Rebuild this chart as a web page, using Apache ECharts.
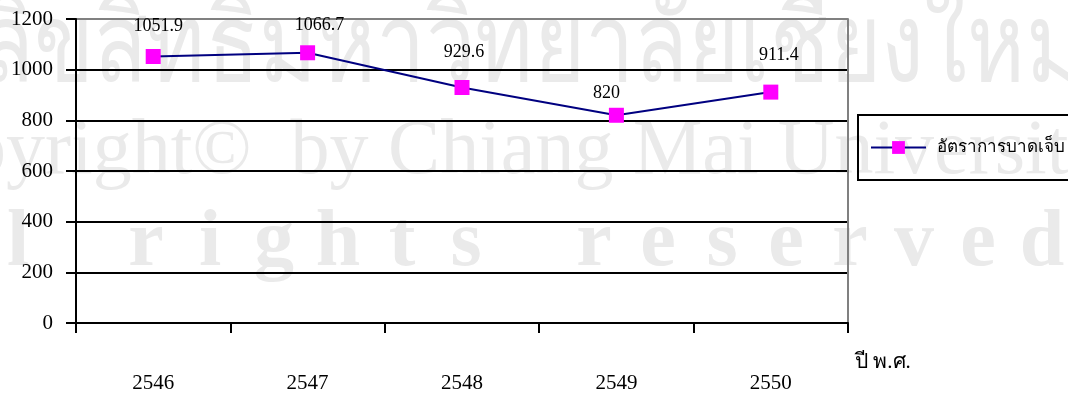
<!DOCTYPE html>
<html>
<head>
<meta charset="utf-8">
<script src="https://cdn.jsdelivr.net/npm/echarts@6/dist/echarts.min.js"></script>
<style>
  html, body { margin: 0; padding: 0; background: #fff; }
  #chart { width: 1068px; height: 394px; }
</style>
</head>
<body>
<div id="chart"></div>
<script>
// Injury rate by Buddhist-era year
const years = ['2546', '2547', '2548', '2549', '2550'];
const injuryRate = [1051.9, 1066.7, 929.6, 820, 911.4];
const seriesName = 'อัตราการบาดเจ็บ';
const yTicks = [0, 200, 400, 600, 800, 1000, 1200];
const xAxisTitle = 'ปี พ.ศ.';

// label nudges (dx, dy) so each value label sits where it reads best
const labelNudges = [[5, -30], [12, -28], [2, -35], [-10, -22], [8, -37]];

const serif = '"Liberation Serif", "Times New Roman", serif';
const thaiFont = '"Liberation Serif", "DejaVu Serif", serif';
const markGray = '#eaeaea';

// copyright watermark behind the plot
const wmLine1 = 'ลิขสิทธิ์มหาวิทยาลัยเชียงใหม่';
const wmLine2 = 'Copyright©  by Chiang Mai University';
const wmLine3 = 'All rights reserved';

const chart = echarts.init(document.getElementById('chart'), null, { renderer: 'canvas' });

const points = injuryRate.map((v, i) => ({
  value: v,
  label: { offset: labelNudges[i] }
}));

// spaced-out letters of the third watermark line, one slot per character
const wmLetters = wmLine3.split('').map((ch, k) => ({
  type: 'text', z: -10, silent: true,
  x: -110 + k * 64, y: 204,
  style: { text: ch, font: 'bold 80px ' + serif, fill: markGray, align: 'center', verticalAlign: 'top' }
}));

chart.setOption({
  animation: false,
  backgroundColor: '#fff',
  graphic: [
    { type: 'text', z: -10, silent: true, x: -20, y: -3, scaleX: 0.8, scaleY: 1,
      style: { text: wmLine1, font: '110px ' + thaiFont, fill: markGray, verticalAlign: 'top' } },
    { type: 'text', z: -10, silent: true, x: -124, y: 114,
      style: { text: wmLine2, font: '78px ' + serif, fill: markGray, verticalAlign: 'top' } },
    ...wmLetters,
    { type: 'text', z: 5, x: 855, y: 352,
      style: { text: xAxisTitle, font: '21px ' + thaiFont, fill: '#000', verticalAlign: 'top' } }
  ],
  grid: { left: 76, right: 220, top: 19, bottom: 71, containLabel: false },
  legend: {
    data: [seriesName],
    left: 858, top: 115,
    padding: [24, 200, 24, 12],
    borderColor: '#000', borderWidth: 2, borderRadius: 0,
    backgroundColor: 'rgba(255,255,255,0)',
    itemWidth: 55, itemHeight: 16,
    textStyle: { fontFamily: thaiFont, fontSize: 17, color: '#000', padding: [0, 0, 0, 6] }
  },
  xAxis: {
    type: 'category',
    data: years,
    boundaryGap: true,
    axisLine: { lineStyle: { color: '#000', width: 2 } },
    axisTick: { show: true, length: 10, lineStyle: { color: '#000', width: 2 } },
    axisLabel: { color: '#000', fontFamily: serif, fontSize: 21, margin: 50 },
    splitLine: { show: false }
  },
  yAxis: [{
    type: 'value',
    min: yTicks[0], max: yTicks[yTicks.length - 1], interval: 200,
    axisLine: { show: true, lineStyle: { color: '#000', width: 2 } },
    axisTick: { show: true, length: 10, lineStyle: { color: '#000', width: 2 } },
    axisLabel: { color: '#000', fontFamily: serif, fontSize: 21, margin: 23, formatter: v => String(v) },
    splitLine: { show: true, lineStyle: { color: ['#000', '#000', '#000', '#000', '#000', '#000', '#808080'], width: 2 } }
  }, {
    type: 'value',
    position: 'right',
    min: yTicks[0], max: yTicks[yTicks.length - 1], interval: 200,
    axisLine: { show: true, lineStyle: { color: '#808080', width: 2 } },
    axisTick: { show: false },
    axisLabel: { show: false },
    splitLine: { show: false }
  }],
  series: [{
    name: seriesName,
    type: 'line',
    data: points,
    symbol: 'rect',
    symbolSize: 15,
    lineStyle: { color: '#000080', width: 2 },
    itemStyle: { color: '#ff00ff', borderWidth: 0 },
    label: {
      show: true,
      position: 'inside',
      color: '#000',
      fontFamily: serif,
      fontSize: 18
    },
    z: 3
  }]
});
</script>
</body>
</html>
